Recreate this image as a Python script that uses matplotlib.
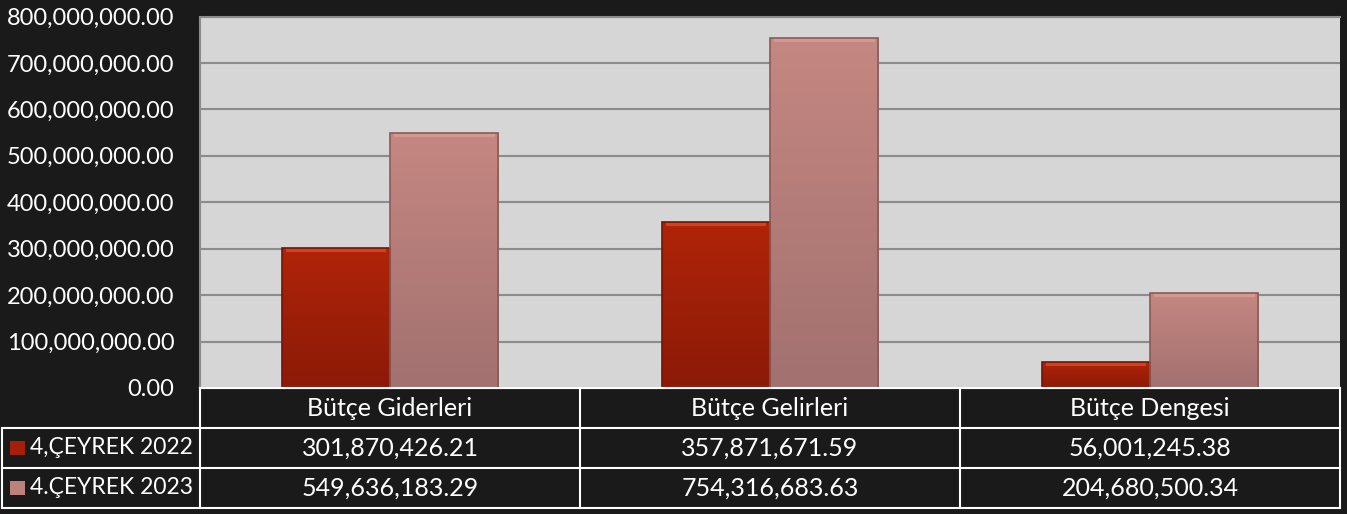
import matplotlib
matplotlib.use("Agg")
import matplotlib.pyplot as plt
import numpy as np
from matplotlib.patches import Rectangle
from matplotlib.lines import Line2D

categories = ["Bütçe Giderleri", "Bütçe Gelirleri", "Bütçe Dengesi"]
series_names = ["4,ÇEYREK 2022", "4.ÇEYREK 2023"]
values_2022 = [301870426.21, 357871671.59, 56001245.38]
values_2023 = [549636183.29, 754316683.63, 204680500.34]
yticks = [0, 100e6, 200e6, 300e6, 400e6, 500e6, 600e6, 700e6, 800e6]

plt.rcParams['font.family'] = ['Lato', 'DejaVu Sans']

W, H = 1347, 514
fig = plt.figure(figsize=(W / 100, H / 100), dpi=100, facecolor="#1a1a1a")

def fx(px):
    return px / W

def fy(py):
    return 1 - py / H

left, right, top, bottom = 200, 1340, 16.5, 388
ax = fig.add_axes([fx(left), fy(bottom), fx(right) - fx(left), fy(top) - fy(bottom)])
ax.set_facecolor("#d6d6d6")
ax.set_xlim(-0.5, 2.5)
ax.set_ylim(0, 800e6)
ax.set_yticks(yticks)
ax.set_yticklabels([f"{v:,.2f}" for v in yticks], color="white", fontsize=17)
ax.tick_params(axis="y", length=0, pad=18.5)
ax.set_xticks([])
ax.grid(axis="y", color="#8c8c8c", linewidth=1.5)
ax.set_axisbelow(True)
for s in ["top", "left"]:
    ax.spines[s].set_color("#8c8c8c")
    ax.spines[s].set_linewidth(1.5)
ax.spines["right"].set_visible(False)
ax.spines["bottom"].set_color("white")
ax.spines["bottom"].set_linewidth(1.5)

x = np.arange(len(categories))
bw = 0.285
colors = ["#a52009", "#bd807a"]
edges = ["#6e1606", "#8a5a58"]
highlights = ["#e0502c", "#d9a09a"]

def grad_bar(xc, h, c_top, c_bot, edge, hl):
    rect = Rectangle((xc - bw / 2, 0), bw, h, facecolor="none", edgecolor=edge, linewidth=1.2, zorder=5)
    ax.add_patch(rect)
    n = 64
    t = np.linspace(0, 1, n)[:, None]
    ct = np.array(matplotlib.colors.to_rgb(c_top))
    cb = np.array(matplotlib.colors.to_rgb(c_bot))
    img = (ct[None, None, :] * (1 - t[..., None]) + cb[None, None, :] * t[..., None])
    img = np.repeat(img, 2, axis=1)
    im = ax.imshow(img, extent=(xc - bw / 2, xc + bw / 2, 0, h), aspect="auto", zorder=3, origin="upper")
    clip = Rectangle((xc - bw / 2, 0), bw, h, transform=ax.transData, facecolor="none", edgecolor="none")
    ax.add_patch(clip)
    im.set_clip_path(clip)
    ax.plot([xc - bw / 2 + 0.01, xc + bw / 2 - 0.01], [h - 4e6, h - 4e6], color=hl, linewidth=3, alpha=0.7, zorder=4,
            solid_capstyle="butt")

bars1 = ax.bar(x - bw / 2, values_2022, bw, color=colors[0], zorder=2)
bars2 = ax.bar(x + bw / 2, values_2023, bw, color=colors[1], zorder=2)
for b in bars1:
    grad_bar(b.get_x() + bw / 2, b.get_height(), "#b02409", "#8c1a07", edges[0], highlights[0])
for b in bars2:
    grad_bar(b.get_x() + bw / 2, b.get_height(), "#c58781", "#a27170", edges[1], highlights[1])
ax.set_xlim(-0.5, 2.5)
ax.set_ylim(0, 800e6)

# Data table
rows_y = [388, 428, 468, 508]
col_x = [200, 580, 960, 1340]
lw = 1.5
lc = "white"

def hline(y, x0, x1):
    fig.add_artist(Line2D([fx(x0), fx(x1)], [fy(y), fy(y)], color=lc, linewidth=lw, transform=fig.transFigure))

def vline(xp, y0, y1):
    fig.add_artist(Line2D([fx(xp), fx(xp)], [fy(y0), fy(y1)], color=lc, linewidth=lw, transform=fig.transFigure))

hline(rows_y[0], 200, 1340)
for yy in rows_y[1:]:
    hline(yy, 2, 1340)
for xp in col_x:
    vline(xp, rows_y[0], rows_y[3])
vline(2, rows_y[1], rows_y[3])

fs = 18
for i, c in enumerate(categories):
    cx = (col_x[i] + col_x[i + 1]) / 2
    fig.text(fx(cx), fy((rows_y[0] + rows_y[1]) / 2), c, color="white", fontsize=fs, ha="center", va="center")
    fig.text(fx(cx), fy((rows_y[1] + rows_y[2]) / 2), f"{values_2022[i]:,.2f}", color="white", fontsize=fs, ha="center", va="center")
    fig.text(fx(cx), fy((rows_y[2] + rows_y[3]) / 2), f"{values_2023[i]:,.2f}", color="white", fontsize=fs, ha="center", va="center")

key_cols = ["#a52009", "#bd807a"]
for r in range(2):
    yc = (rows_y[r + 1] + rows_y[r + 2]) / 2
    fig.add_artist(Rectangle((fx(10), fy(yc + 7)), fx(15), 14 / H, facecolor=key_cols[r], edgecolor="none", transform=fig.transFigure))
    fig.text(fx(30), fy(yc), series_names[r], color="white", fontsize=16.5, ha="left", va="center")

fig.savefig("out.png", dpi=100, facecolor=fig.get_facecolor())
